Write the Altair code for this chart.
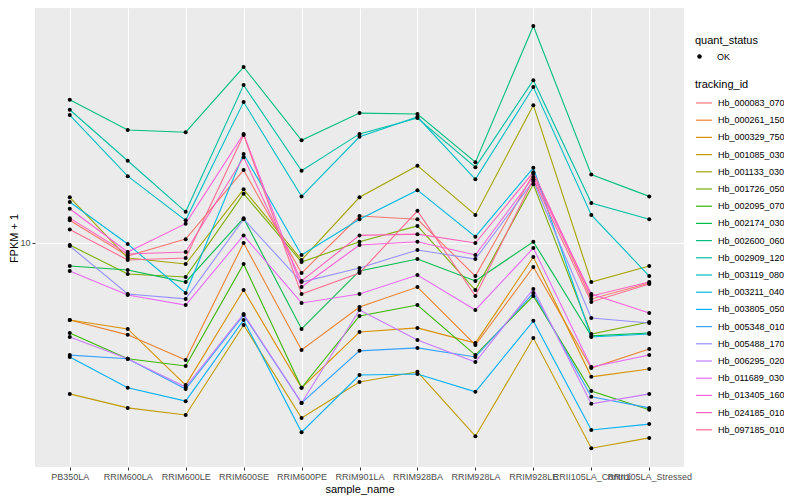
import altair as alt
import pandas as pd

samples = ["PB350LA", "RRIM600LA", "RRIM600LE", "RRIM600SE", "RRIM600PE", "RRIM901LA",
           "RRIM928BA", "RRIM928LA", "RRIM928LE", "RRII105LA_Control", "RRII105LA_Stressed"]

Hb_000083_070 = [11.9, 9.05, 10.3, 17.5, 7.94, 12.3, 12.0, 7.76, 17.0, 6.51, 7.36]
Hb_000261_150 = [5.54, 4.94, 4.07, 10.0, 4.40, 6.12, 7.13, 4.57, 8.32, 3.83, 4.43]
Hb_000329_750 = [5.54, 5.17, 3.36, 6.97, 3.29, 5.05, 5.21, 4.64, 8.98, 3.58, 3.80]
Hb_001085_030 = [3.14, 2.82, 2.67, 5.33, 2.61, 3.44, 3.72, 2.27, 4.82, 2.07, 2.24]
Hb_001133_030 = [14.2, 8.91, 8.51, 15.1, 8.78, 14.2, 18.1, 12.4, 28.8, 7.41, 8.38]
Hb_001726_050 = [9.85, 7.88, 7.70, 14.6, 8.64, 10.1, 11.4, 6.97, 15.7, 4.97, 5.45]
Hb_002095_070 = [5.01, 4.11, 3.89, 8.51, 3.29, 5.71, 6.21, 4.23, 6.66, 3.21, 2.78]
Hb_002174_030 = [8.38, 8.13, 7.41, 12.1, 5.17, 8.07, 8.84, 7.47, 10.1, 4.90, 5.01]
Hb_002600_060 = [30.0, 23.8, 23.4, 38.6, 22.0, 27.1, 26.9, 18.6, 52.9, 16.9, 14.3]
Hb_002909_120 = [27.8, 18.8, 12.7, 33.6, 17.4, 23.1, 26.1, 17.9, 34.9, 13.6, 12.0]
Hb_003119_080 = [26.7, 16.7, 11.9, 29.5, 14.3, 22.6, 26.3, 16.3, 33.1, 12.4, 7.76]
Hb_003211_040 = [13.7, 9.92, 6.81, 19.8, 9.12, 12.0, 15.0, 10.5, 17.8, 4.86, 4.97]
Hb_003805_050 = [4.17, 3.29, 2.97, 5.54, 2.34, 3.63, 3.66, 3.19, 5.50, 2.38, 2.49]
Hb_005348_010 = [4.23, 4.11, 3.26, 5.75, 2.93, 4.37, 4.47, 4.17, 6.81, 3.07, 2.82]
Hb_005488_170 = [9.77, 6.76, 6.51, 12.0, 7.41, 8.25, 9.48, 8.84, 16.1, 5.62, 5.41]
Hb_006295_020 = [4.86, 4.11, 3.31, 5.80, 2.93, 5.98, 4.75, 4.01, 7.03, 2.91, 3.14]
Hb_011689_030 = [8.07, 6.71, 6.21, 10.6, 6.31, 6.76, 7.82, 5.98, 9.62, 3.86, 4.23]
Hb_013405_160 = [13.0, 9.33, 11.6, 23.1, 7.13, 9.85, 10.1, 9.12, 16.6, 6.76, 5.84]
Hb_024185_010 = [12.1, 9.19, 9.33, 19.3, 7.47, 10.6, 10.7, 10.0, 17.2, 6.66, 7.41]
Hb_097185_010 = [11.1, 8.78, 8.91, 22.9, 6.76, 7.94, 12.8, 6.66, 16.3, 6.36, 7.30]

series = {
    "Hb_000083_070": Hb_000083_070, "Hb_000261_150": Hb_000261_150,
    "Hb_000329_750": Hb_000329_750, "Hb_001085_030": Hb_001085_030,
    "Hb_001133_030": Hb_001133_030, "Hb_001726_050": Hb_001726_050,
    "Hb_002095_070": Hb_002095_070, "Hb_002174_030": Hb_002174_030,
    "Hb_002600_060": Hb_002600_060, "Hb_002909_120": Hb_002909_120,
    "Hb_003119_080": Hb_003119_080, "Hb_003211_040": Hb_003211_040,
    "Hb_003805_050": Hb_003805_050, "Hb_005348_010": Hb_005348_010,
    "Hb_005488_170": Hb_005488_170, "Hb_006295_020": Hb_006295_020,
    "Hb_011689_030": Hb_011689_030, "Hb_013405_160": Hb_013405_160,
    "Hb_024185_010": Hb_024185_010, "Hb_097185_010": Hb_097185_010,
}
ids = list(series.keys())
colors = ["#F8766D", "#EA8331", "#D89000", "#C09B00", "#A3A500", "#7CAE00", "#39B600",
          "#00BB4E", "#00BF7D", "#00C1A3", "#00BFC4", "#00BAE0", "#00B0F6", "#35A2FF",
          "#9590FF", "#C77CFF", "#E76BF3", "#FA62DB", "#FF62BC", "#FF6C91"]

rows = []
for tid, vals in series.items():
    for i, (s, v) in enumerate(zip(samples, vals)):
        rows.append({"tracking_id": tid, "sample_name": s, "idx": i, "fpkm": v, "quant_status": "OK"})
df = pd.DataFrame(rows)

FONT = "Liberation Sans"

x_enc = alt.X("sample_name:N", sort=samples,
              scale=alt.Scale(type="point", padding=0.6),
              axis=alt.Axis(title="sample_name", labelAngle=0, labelOverlap=False, labelBound=False,
                            labelFontSize=9, labelColor="#4D4D4D", labelPadding=2,
                            titleFontSize=11, titleFontWeight="normal", titleColor="black",
                            titlePadding=2, tickSize=3, tickColor="#333333"))
y_enc = alt.Y("fpkm:Q",
              scale=alt.Scale(type="log", domain=[1.7916, 60.72], nice=False),
              axis=alt.Axis(title="FPKM + 1", values=[10], format="d",
                            labelFontSize=9, labelColor="#4D4D4D", labelPadding=2,
                            titleFontSize=11, titleFontWeight="normal", titleColor="black",
                            titleX=-16, titleY=230, tickSize=3, tickColor="#333333"))

base = alt.Chart(df)

lines = base.mark_line(strokeWidth=1.1).encode(
    x=x_enc, y=y_enc,
    color=alt.Color("tracking_id:N",
                    scale=alt.Scale(domain=ids, range=colors),
                    legend=alt.Legend(title="tracking_id", orient="none", legendX=660, legendY=71,
                                      symbolType="stroke", symbolSize=256, symbolStrokeWidth=1.2,
                                      labelFontSize=9, titleFontSize=11, titleFontWeight="normal",
                                      labelOffset=5, rowPadding=3.2, titlePadding=4, padding=0)),
    order="idx:Q",
)

points = base.mark_point(filled=True, color="black", size=16, opacity=1).encode(
    x=x_enc, y=y_enc,
    shape=alt.Shape("quant_status:N",
                    scale=alt.Scale(domain=["OK"], range=["circle"]),
                    legend=alt.Legend(title="quant_status", orient="none", legendX=660, legendY=27,
                                      symbolFillColor="black", symbolStrokeColor="black",
                                      symbolSize=20, labelFontSize=9, titleFontSize=11,
                                      titleFontWeight="normal", labelOffset=13, titlePadding=6,
                                      padding=0)),
)

chart = alt.layer(lines, points).properties(
    width=649, height=459,
    padding={"left": 27, "top": 0, "right": 100, "bottom": 30},
    autosize=alt.AutoSizeParams(type="none"),
    background="white",
).configure_view(
    fill="#EBEBEB", stroke=None
).configure_axis(
    grid=True, gridColor="white", gridWidth=1.1, domain=False,
    labelFont=FONT, titleFont=FONT
).configure_legend(
    labelFont=FONT, titleFont=FONT, labelColor="black", titleColor="black"
)

chart.save("out.html", embed_options={"renderer": "svg", "actions": False})
